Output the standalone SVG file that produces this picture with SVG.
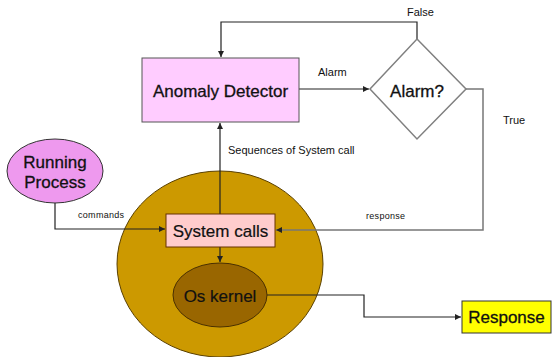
<svg xmlns="http://www.w3.org/2000/svg" width="554" height="357" viewBox="0 0 554 357">
<style>
text{font-family:"Liberation Sans",Arial,sans-serif;fill:#111}
.big{font-size:17px;text-anchor:middle;stroke:#111;stroke-width:0.3}
.reg{font-size:17px;text-anchor:middle;stroke:#111;stroke-width:0.2}
.lbl{font-size:11px}
.sm{font-size:9px;letter-spacing:0.3px}
.line{fill:none;stroke:#222;stroke-width:1.2}
.gline{fill:none;stroke:#777;stroke-width:1.5}
</style>
<defs>
<marker id="ah" markerWidth="6" markerHeight="6" refX="6" refY="3" orient="auto" markerUnits="userSpaceOnUse">
<path d="M0,0 L6,3 L0,6 z" fill="#222"/>
</marker>
</defs>
<rect width="554" height="357" fill="#fff"/>
<g id="kernel-space">
<ellipse cx="220" cy="264" rx="103" ry="93" fill="#CC9900" stroke="#5a4000" stroke-width="1"/>
</g>
<g id="connectors">
<path class="line" d="M417,39 V22 H221 V57" marker-end="url(#ah)"/>
<path class="line" d="M299,89 H369" marker-end="url(#ah)"/>
<path class="gline" d="M466,89 H483 V230 H276" marker-end="url(#ah)"/>
<path class="line" d="M220,214 V123" marker-end="url(#ah)"/>
<path class="line" d="M55,203 V229 H165" marker-end="url(#ah)"/>
<path class="line" d="M220,247 V262" marker-end="url(#ah)"/>
<path class="line" d="M267,295 H364 V317 H461" marker-end="url(#ah)"/>
<text class="lbl" x="407" y="16">False</text>
<text class="lbl" x="318" y="76">Alarm</text>
<text class="lbl" x="503" y="124">True</text>
<text class="lbl" x="228" y="154">Sequences of System call</text>
<text class="sm" x="366" y="219">response</text>
<text class="sm" x="78" y="218">commands</text>
</g>
<g id="anomaly-detector">
<rect x="142" y="58" width="157" height="64" fill="#FFCCFF" stroke="#555" stroke-width="1"/>
<text class="big" x="220.5" y="97">Anomaly Detector</text>
</g>
<g id="alarm-decision">
<polygon points="417,39 466,89 417,139 370,89" fill="#fff" stroke="#808080" stroke-width="1.5"/>
<text class="big" x="417" y="97">Alarm?</text>
</g>
<g id="running-process">
<ellipse cx="55" cy="171" rx="48" ry="32" fill="#EE99EE" stroke="#333" stroke-width="1"/>
<text class="big" x="55" y="168">Running</text>
<text class="big" x="55" y="188">Process</text>
</g>
<g id="system-calls">
<rect x="166" y="214" width="109" height="33" fill="#FFCCCC" stroke="#663300" stroke-width="1"/>
<text class="reg" x="220.5" y="237">System calls</text>
</g>
<g id="os-kernel">
<ellipse cx="220" cy="295" rx="47" ry="32" fill="#996600" stroke="#4a3000" stroke-width="1"/>
<text class="reg" x="220" y="302">Os kernel</text>
</g>
<g id="response">
<rect x="462" y="301" width="89" height="32" fill="#FFFF00" stroke="#333" stroke-width="1"/>
<text class="big" x="506.5" y="323">Response</text>
</g>
</svg>
